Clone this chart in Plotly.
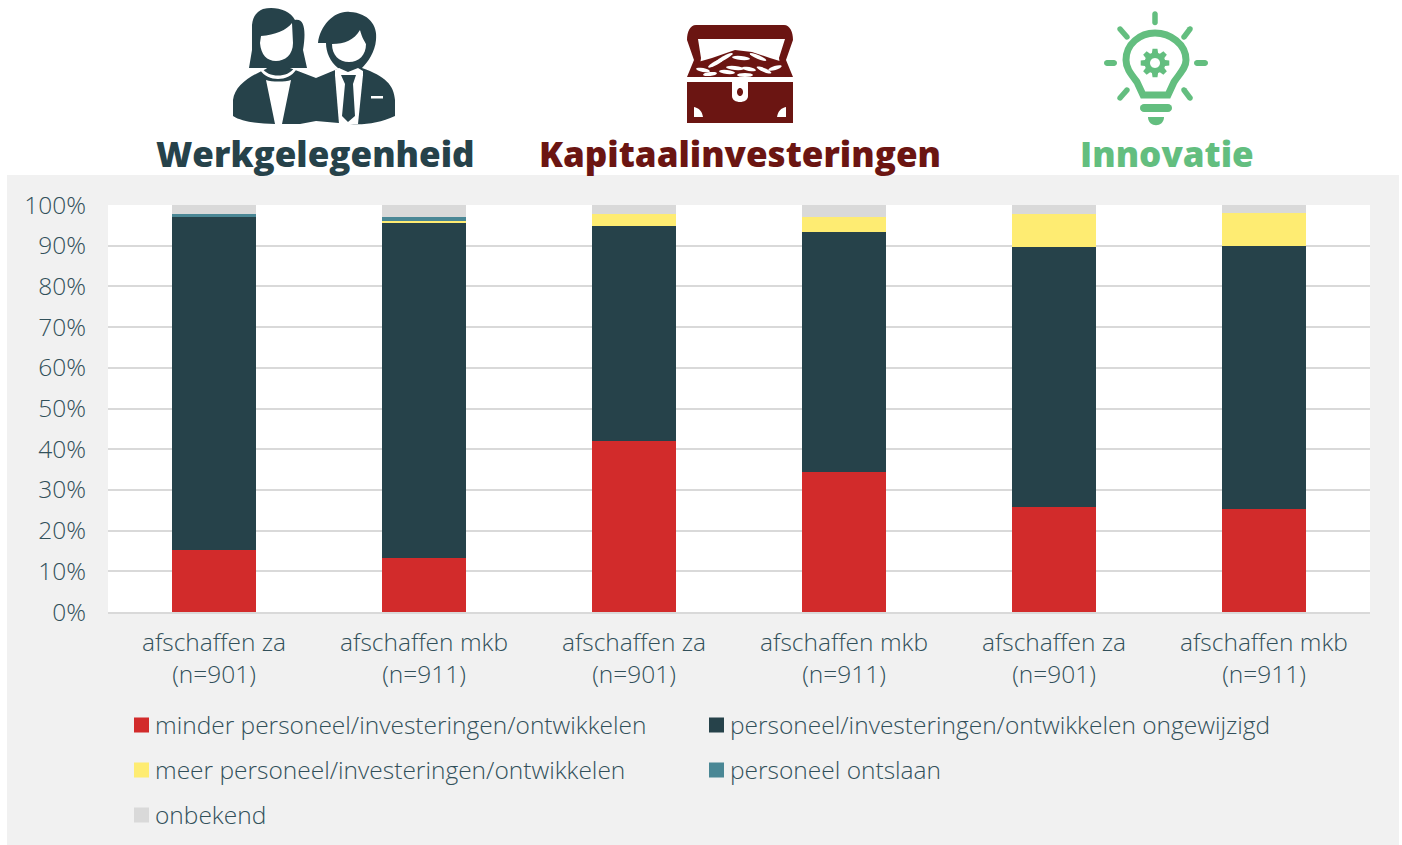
import re, math
import plotly.graph_objects as go

GROUPS = ["afschaffen za<br>(n=901)", "afschaffen mkb<br>(n=911)", "afschaffen za<br>(n=901)",
          "afschaffen mkb<br>(n=911)", "afschaffen za<br>(n=901)", "afschaffen mkb<br>(n=911)"]
POS = [0, 1, 2, 3, 4, 5]
minder = [15.3, 13.3, 42.0, 34.4, 25.8, 25.4]
ongewijzigd = [81.8, 82.2, 52.8, 59.0, 63.8, 64.6]
meer = [0.0, 0.6, 3.0, 3.7, 8.2, 8.0]
ontslaan = [0.7, 0.9, 0.0, 0.0, 0.0, 0.0]
onbekend = [2.2, 3.0, 2.2, 2.9, 2.2, 2.0]
NAMES = ["minder personeel/investeringen/ontwikkelen", "personeel/investeringen/ontwikkelen ongewijzigd",
         "meer personeel/investeringen/ontwikkelen", "personeel ontslaan", "onbekend"]
VALUES = [minder, ongewijzigd, meer, ontslaan, onbekend]
COLORS = ["#D22B2B", "#26424A", "#FEEC72", "#4A8795", "#D9D9D9"]
TEXT = "#31505A"
DARK, MAROON, GREEN = "#26424A", "#6B1512", "#63BE7F"
L, R, T, B = 108, 1370, 205, 612
W, H = 1402, 845
LEG_POS = [(155, 725), (730, 725), (155, 770), (730, 770), (155, 815)]
BODY_FONT = "Open Sans"
BODY_SIZE = 24.5


def fx(p): return (p - L) / (R - L)
def fy(p): return (B - p) / (B - T)


def conv(d):
    toks = re.findall(r"[A-Za-z]|-?\d+\.?\d*", d)
    out, pair = [], []
    for t in toks:
        if t.isalpha():
            out.append(t)
        else:
            pair.append(float(t))
            if len(pair) == 2:
                out.append(f"{fx(pair[0]):.5f},{fy(pair[1]):.5f}")
                pair = []
    return " ".join(out)


shapes = []
def add(d, color, line=0, line_color=None):
    shapes.append(dict(type="path", xref="paper", yref="paper", path=conv(d), fillcolor=color,
                       line=dict(width=line, color=line_color or color), layer="above"))


def ell(cx, cy, rx, ry, rot=0, n=28):
    c, s = math.cos(rot), math.sin(rot)
    pts = []
    for i in range(n):
        a = 2 * math.pi * i / n
        x, y = rx * math.cos(a), ry * math.sin(a)
        pts.append((cx + x * c - y * s, cy + x * s + y * c))
    return "M" + " L".join(f"{x:.2f},{y:.2f}" for x, y in pts) + " Z"


def capsule(x1, y1, x2, y2, w):
    a = math.atan2(y2 - y1, x2 - x1)
    pts = []
    for i in range(9):
        t = a + math.pi / 2 + math.pi * i / 8
        pts.append((x1 + w / 2 * math.cos(t), y1 + w / 2 * math.sin(t)))
    for i in range(9):
        t = a - math.pi / 2 + math.pi * i / 8
        pts.append((x2 + w / 2 * math.cos(t), y2 + w / 2 * math.sin(t)))
    return "M" + " L".join(f"{x:.2f},{y:.2f}" for x, y in pts) + " Z"


# --- people icon
add("M233,116 L233,100 C235,85 250,76 268,68 L290,68 L316,78 L340,68 L362,68 C385,76 394,85 395,100 L395,116 "
    "C380,123 365,125 350,124 L316,121 L300,124 C270,124 245,124 233,116 Z", DARK)
add("M263,9 C275,6 290,10 295,20 C305,18 306,32 303,50 L307,68 L290,68 L284,72 L272,72 L266,68 L249,68 "
    "L252,50 L252,25 C253,15 258,11 263,9 Z", DARK)
add("M261,36 C275,35 287,30 292,23 L293,43 C293,55 285,61 276,61 C267,61 261,55 260,43 Z", "#FFFFFF")
add("M266,80 C272,82 285,82 291,80 L282,124 L275,124 Z", "#FFFFFF")
add("M262,68 C268,78 288,78 294,68 L296,70 C288,82 268,82 260,70 Z", "#FFFFFF", 0)
add("M318,43 C320,25 335,10 350,12 C368,13 378,25 376,40 C375,52 368,62 362,68 L338,68 C330,62 326,52 326,43 Z", DARK)
add("M332,44 C345,44 354,40 360,30 C362,38 365,42 366,44 C366,55 359,62 349,62 C339,62 332,55 332,44 Z", "#FFFFFF")
add("M335,75 L363,75 L358,124 L339,124 Z", "#FFFFFF")
add("M335,70 L339,68 L348,72 L358,68 L363,71 L363,76 L335,76 Z", "#FFFFFF")
add("M341,75 L356,75 L353,84 L355,116 L348,122 L342,116 L345,84 Z", DARK)
add("M371,96 L383,96 L383,98.5 L371,98.5 Z", "#FFFFFF")

# --- treasure chest icon
add("M696,25 L784,25 C790,25 793,32 793,40 L786,60 L793,77 L687,77 L694,60 L687,40 C687,32 690,25 696,25 Z", MAROON)
add("M698,39 L785,39 L779,58 L781,72 L699,72 L701,58 Z", "#FFFFFF")
add("M687,82 L793,82 L793,123 L687,123 Z", MAROON)
add("M732,82 L748,82 L748,96 C748,104 732,104 732,96 Z", "#FFFFFF")
add(ell(740, 92, 3, 4), MAROON)
add("M777,117 C778,111 781,108 786,107 L786,117 Z", "#FFFFFF")
add("M703,117 C702,111 699,108 694,107 L694,117 Z", "#FFFFFF")
add("M694,77 L698,62 L712,58 L735,50 L752,52 L770,58 L783,62 L786,77 Z", MAROON)
COINS = [(703, 70, 7, .2), (716, 63, 9, -.5), (724, 58, 10, -.5), (741, 58, 9, .1), (758, 57, 9, .4), (727, 72, 8, .1),
         (735, 68, 9, .1), (749, 69, 7, .2), (764, 70, 8, .4), (775, 68, 7, -.3), (710, 74, 7, -.1), (745, 75, 8, 0)]
for cx, cy, r, a in COINS:
    add(ell(cx, cy, r, 2.0, a, 16), "#FFFFFF")

# --- light bulb icon
add("M1143,95 L1137,82 C1130,73 1126,68 1126,60 C1126,44 1140,33 1155,33 C1170,33 1186,44 1186,60 "
    "C1186,68 1180,73 1174,82 L1168,95 Z", "rgba(0,0,0,0)", 7, GREEN)
for seg in [(1155, 14, 1155, 22.5, 5.5), (1107, 63, 1114, 63, 6), (1197, 63, 1205, 63, 6), (1120, 29, 1127, 37, 5.5),
            (1190, 29, 1184, 37, 5.5), (1120, 98, 1127, 90, 5.5), (1190, 98, 1184, 90, 5.5), (1144, 108, 1168, 108, 8)]:
    add(capsule(*seg), GREEN)
add("M1148,117 L1164,117 C1164,128 1148,128 1148,117 Z", GREEN)
gear = []
for i in range(8):
    for da, r in [(-.30, 10.5), (-.17, 14.5), (.17, 14.5), (.30, 10.5)]:
        a = i * math.pi / 4 + da
        gear.append((1155 + r * math.cos(a), 63 + r * math.sin(a)))
add("M" + " L".join(f"{x:.2f},{y:.2f}" for x, y in gear) + " Z", GREEN)
add(ell(1155, 63, 5, 5), "#FFFFFF")

# --- panel behind the chart
shapes.insert(0, dict(type="rect", xref="paper", yref="paper", x0=fx(7), x1=fx(1399), y0=fy(845), y1=fy(175),
                      fillcolor="#F1F1F1", line=dict(width=0), layer="below"))
shapes.insert(1, dict(type="rect", xref="paper", yref="paper", x0=0, x1=1, y0=0, y1=1,
                      fillcolor="#FFFFFF", line=dict(width=0), layer="below"))

fig = go.Figure()
for i, (name, vals, col) in enumerate(zip(NAMES, VALUES, COLORS)):
    fig.add_trace(go.Bar(x=POS, y=vals, name=name, marker=dict(color=col, line=dict(width=0)),
                         legend="legend" if i == 0 else f"legend{i + 1}", showlegend=True))

tickfont = dict(family=BODY_FONT, size=BODY_SIZE, color=TEXT, weight=300)
layout = dict(
    width=W, height=H, barmode="stack", bargap=0.6, showlegend=True,
    paper_bgcolor="rgba(0,0,0,0)", plot_bgcolor="rgba(0,0,0,0)",
    margin=dict(l=L, r=W - R, t=T, b=H - B, autoexpand=False),
    font=tickfont,
    xaxis=dict(tickmode="array", tickvals=POS, ticktext=GROUPS, range=[-0.5048, 5.5048], showgrid=False,
               ticks="outside", ticklen=8, tickcolor="rgba(0,0,0,0)", showline=True, linecolor="#D9D9D9", linewidth=2,
               tickfont=tickfont, zeroline=False),
    yaxis=dict(range=[0, 100], tickmode="array", tickvals=list(range(0, 101, 10)),
               ticktext=[f"{v}%" for v in range(0, 101, 10)], gridcolor="#D9D9D9", gridwidth=2, zeroline=False,
               ticks="outside", ticklen=16, tickcolor="rgba(0,0,0,0)", tickfont=tickfont),
    shapes=shapes,
    annotations=[
        dict(text=t, xref="paper", yref="paper", x=fx(cx), y=fy(178), xanchor="center", yanchor="bottom",
             showarrow=False, font=dict(family="Open Sans", size=35, color=c, weight=800), borderpad=0)
        for t, cx, c in [("Werkgelegenheid", 315, DARK), ("Kapitaalinvesteringen", 740, MAROON), ("Innovatie", 1167, GREEN)]
    ],
)
for i, (px, py) in enumerate(LEG_POS):
    key = "legend" if i == 0 else f"legend{i + 1}"
    layout[key] = dict(x=fx(px - 40), y=fy(py), xanchor="left", yanchor="middle", bgcolor="rgba(0,0,0,0)",
                       font=tickfont, borderwidth=0, itemclick=False)
fig.update_layout(**layout)
POST = """document.body.style.margin='0';
var gd=document.getElementById('{plot_id}');
function fixSwatches(){document.querySelectorAll('.legendpoints path').forEach(function(p){p.setAttribute('transform','translate(26.5,0) scale(1.25)');});}
gd.on('plotly_afterplot',fixSwatches);
setTimeout(fixSwatches,100);setTimeout(fixSwatches,500);"""
fig.write_html("out.html", post_script=POST, config={"displayModeBar": False})
